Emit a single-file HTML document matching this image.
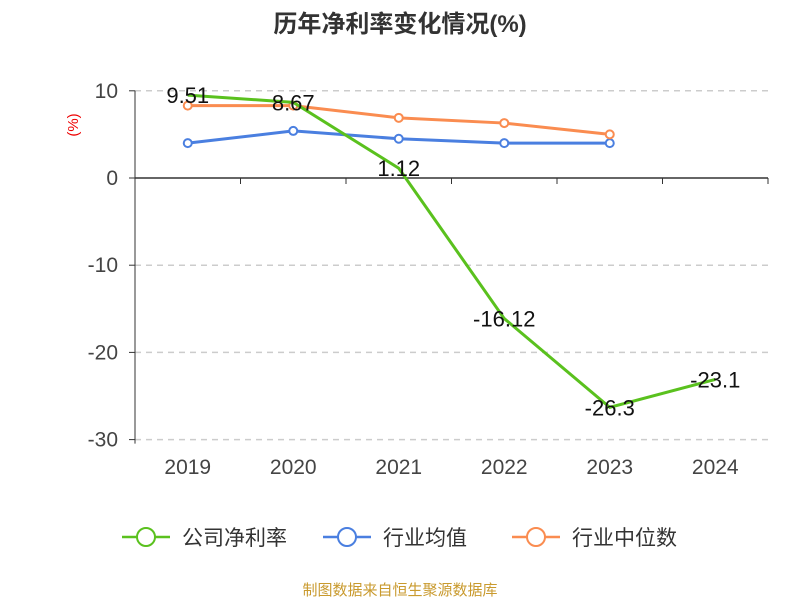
<!DOCTYPE html>
<html><head><meta charset="utf-8"><style>
body{margin:0;background:#fff;}
svg text{font-family:"Liberation Sans","Noto Sans CJK SC",sans-serif;}
</style></head><body>
<svg width="800" height="600" xmlns="http://www.w3.org/2000/svg">
<text x="400" y="32" text-anchor="middle" font-size="24" font-weight="bold" fill="#333">历年净利率变化情况(%)</text>
<text transform="translate(78,125) rotate(-90)" text-anchor="middle" font-size="15" fill="#e00">(%)</text>
<g id="grid"></g><g id="axes"></g><g id="series"></g><g id="labels"></g>
<g>
<g><line x1="122" y1="537" x2="170" y2="537" stroke="#5ac11e" stroke-width="2.5"/><circle cx="146" cy="537" r="9" fill="#fff" stroke="#5ac11e" stroke-width="2"/><text x="182" y="545" font-size="21" fill="#333">公司净利率</text></g>
<g><line x1="323" y1="537" x2="371" y2="537" stroke="#4a7fe0" stroke-width="2.5"/><circle cx="347" cy="537" r="9" fill="#fff" stroke="#4a7fe0" stroke-width="2"/><text x="383" y="545" font-size="21" fill="#333">行业均值</text></g>
<g><line x1="512" y1="537" x2="560" y2="537" stroke="#fa8c50" stroke-width="2.5"/><circle cx="536" cy="537" r="9" fill="#fff" stroke="#fa8c50" stroke-width="2"/><text x="572" y="545" font-size="21" fill="#333">行业中位数</text></g>
</g>
<text x="400" y="595" text-anchor="middle" font-size="15" fill="#c99a2e">制图数据来自恒生聚源数据库</text>
</svg>
<script>
const categories=["2019","2020","2021","2022","2023","2024"];
const netMargin=[9.51,8.67,1.12,-16.12,-26.3,-23.1];
const netLabels=["9.51","8.67","1.12","-16.12","-26.3","-23.1"];
const industryAvg=[4.0,5.4,4.5,4.0,4.0];
const industryMedian=[8.3,8.3,6.9,6.3,5.0];
const yTicks=[10,0,-10,-20,-30];
const NS="http://www.w3.org/2000/svg";
const x0=135,x1=768,band=(x1-x0)/categories.length;
const xs=i=>x0+band*(i+0.5);
const ys=v=>178-v*8.72;
function mk(tag,attrs,parent,text){const e=document.createElementNS(NS,tag);for(const k in attrs)e.setAttribute(k,attrs[k]);if(text!==undefined)e.textContent=text;document.getElementById(parent).appendChild(e);return e;}
yTicks.forEach(t=>{
  if(t!==0){const g=mk("line",{x1:x0,x2:x1,y1:ys(t),y2:ys(t),stroke:"#ccc","stroke-dasharray":"6,5","stroke-width":1.5},"grid");
  
  }
  const tl=mk("text",{x:118,y:ys(t)+7,"text-anchor":"end","font-size":21,fill:"#444"},"axes",String(t));
  
  
  mk("line",{x1:x0-6,x2:x0,y1:ys(t),y2:ys(t),stroke:"#333"},"axes");
});
const ya=mk("line",{x1:x0,x2:x0,y1:ys(10),y2:ys(-30)+4,stroke:"#333","stroke-width":1},"axes");


const xa=mk("line",{x1:x0,x2:x1,y1:ys(0),y2:ys(0),stroke:"#333","stroke-width":1.5},"axes");


for(let i=0;i<=categories.length;i++)mk("line",{x1:x0+band*i,x2:x0+band*i,y1:ys(0),y2:ys(0)+6,stroke:"#333"},"axes");
categories.forEach((c,i)=>{const t=mk("text",{x:xs(i),y:474,"text-anchor":"middle","font-size":21,fill:"#444"},"axes",c);

});
function series(vals,color,name,markers){
  const p=mk("polyline",{points:vals.map((v,i)=>xs(i)+","+ys(v)).join(" "),fill:"none",stroke:color,"stroke-width":3},"series");
  
  
  if(markers)vals.forEach((v,i)=>{const c=mk("circle",{cx:xs(i),cy:ys(v),r:4,fill:"#fff",stroke:color,"stroke-width":2},"series");
  
  });
}
series(industryAvg,"#4a7fe0","industry-avg-line",true);
series(industryMedian,"#fa8c50","industry-median-line",true);
series(netMargin,"#5ac11e","net-margin-line",false);
netMargin.forEach((v,i)=>{const t=mk("text",{x:xs(i),y:ys(v)+8,"text-anchor":"middle","font-size":22,fill:"#111"},"labels",netLabels[i]);

});
</script>
</body></html>
